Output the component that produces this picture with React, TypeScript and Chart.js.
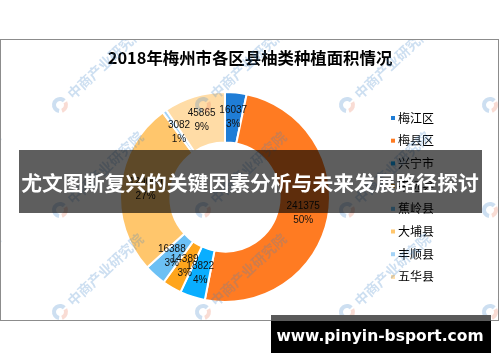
import React, { useEffect, useRef } from "react";
import { Chart, registerables } from "chart.js";

Chart.register(...registerables);

const chartTitle = "2018年梅州市各区县柚类种植面积情况";
const categories = ["梅江区", "梅县区", "兴宁市", "平远县", "蕉岭县", "大埔县", "丰顺县", "五华县"];
const areaValues = [16037, 241375, 18822, 14389, 16388, 129000, 3082, 45865];
const sliceColors = ["#1f7dd6", "#ff7b22", "#0aaeff", "#ffa51c", "#6cc0f4", "#ffc66c", "#a3d3f7", "#ffdca6"];
const bannerText = "尤文图斯复兴的关键因素分析与未来发展路径探讨";
const urlText = "www.pinyin-bsport.com";
const watermarkText = "中商产业研究院";

const decorPlugin = {
  id: "decor",
  beforeDraw(chart: any) {
    const ctx = chart.ctx;
    ctx.save();
    ctx.fillStyle = "#ffffff";
    ctx.fillRect(0, 0, chart.width, chart.height);
    ctx.strokeStyle = "#8c8c8c";
    ctx.lineWidth = 1;
    ctx.strokeRect(0.5, 39.5, 498, 281);
    ctx.restore();
  },
  afterDatasetsDraw(chart: any) {
    const ctx = chart.ctx;
    const meta = chart.getDatasetMeta(0);
    const data = chart.data.datasets[0].data as number[];
    const total = data.reduce((a, b) => a + b, 0);
    ctx.save();
    ctx.fillStyle = "#111";
    ctx.font = "10px 'Liberation Sans', Arial, sans-serif";
    ctx.textAlign = "center";
    ctx.textBaseline = "middle";
    meta.data.forEach((arc: any, i: number) => {
      const p = arc.getProps(["x", "y", "startAngle", "endAngle", "innerRadius", "outerRadius"], true);
      const mid = (p.startAngle + p.endAngle) / 2;
      const r = (p.innerRadius + p.outerRadius) / 2;
      const x = p.x + Math.cos(mid) * r;
      const y = p.y + Math.sin(mid) * r;
      ctx.fillText(String(data[i]), x, y - 7);
      ctx.fillText(Math.round((data[i] / total) * 100) + "%", x, y + 7);
    });
    ctx.restore();
  },
  afterDraw(chart: any) {
    const ctx = chart.ctx;
    const labels = chart.data.labels as string[];
    const colors = chart.data.datasets[0].backgroundColor as string[];
    ctx.save();
    // title
    ctx.fillStyle = "#000";
    ctx.font = "bold 16.4px 'Noto Sans CJK SC', sans-serif";
    ctx.textAlign = "center";
    ctx.textBaseline = "middle";
    ctx.fillText(chartTitle, 250, 58);
    // legend
    ctx.textAlign = "left";
    ctx.font = "12px 'Noto Sans CJK SC', sans-serif";
    labels.forEach((lab, i) => {
      const y = 118 + i * 22.7;
      ctx.fillStyle = colors[i];
      ctx.fillRect(391, y - 2, 4, 4);
      ctx.fillStyle = "#000";
      ctx.fillText(lab, 398, y);
    });
    ctx.restore();

    // watermarks
    ctx.save();
    ctx.beginPath();
    ctx.rect(1, 40, 497, 280);
    ctx.clip();
    const xs = [-83, 60, 203, 347, 490];
    const ys = [105, 210, 312];
    xs.forEach((wx) => {
      ys.forEach((wy) => {
        ctx.save();
        ctx.translate(wx, wy);
        ctx.globalAlpha = 0.26;
        ctx.lineWidth = 4;
        ctx.strokeStyle = "#3c82c8";
        ctx.beginPath();
        ctx.arc(0, 0, 6, 0.55 * Math.PI, 1.75 * Math.PI);
        ctx.stroke();
        ctx.strokeStyle = "#e8785a";
        ctx.beginPath();
        ctx.arc(0, 0, 6, 1.85 * Math.PI, 2.4 * Math.PI);
        ctx.stroke();
        ctx.rotate((-43 * Math.PI) / 180);
        ctx.fillStyle = "#3c82c8";
        ctx.font = "bold 14px 'Noto Sans CJK SC', sans-serif";
        ctx.textAlign = "left";
        ctx.textBaseline = "middle";
        ctx.fillText(watermarkText, 13, 0);
        ctx.restore();
      });
    });
    ctx.restore();

    // banner
    ctx.save();
    ctx.fillStyle = "rgba(0,0,0,0.63)";
    ctx.fillRect(19, 150, 463, 63);
    ctx.fillStyle = "#ffffff";
    ctx.font = "bold 20.8px 'Noto Sans CJK SC', sans-serif";
    ctx.textAlign = "center";
    ctx.textBaseline = "middle";
    ctx.fillText(bannerText, 250, 183);
    // url box
    ctx.fillStyle = "#5a5a5a";
    ctx.fillRect(271, 315, 220, 6);
    ctx.fillStyle = "#000000";
    ctx.fillRect(271, 321, 220, 32);
    ctx.fillStyle = "#ffffff";
    ctx.font = "bold 15.5px 'DejaVu Sans', sans-serif";
    ctx.fillText(urlText, 380, 337);
    ctx.restore();
  },
};

export default function App() {
  const canvasRef = useRef<HTMLCanvasElement | null>(null);
  useEffect(() => {
    if (!canvasRef.current) return;
    const chart = new Chart(canvasRef.current, {
      type: "doughnut",
      data: {
        labels: categories,
        datasets: [
          {
            data: areaValues,
            backgroundColor: sliceColors,
            borderColor: "#ffffff",
            borderWidth: 2,
          },
        ],
      },
      options: {
        responsive: false,
        animation: false,
        devicePixelRatio: 1,
        cutout: "52%",
        layout: { padding: { left: 119, right: 169, top: 90, bottom: 58 } },
        plugins: {
          legend: { display: false },
          tooltip: { enabled: false },
          title: { display: false },
        },
      },
      plugins: [decorPlugin],
    });
    return () => chart.destroy();
  }, []);
  return (
    <div style={{ position: "absolute", left: 0, top: 0, width: 500, height: 362 }}>
      <canvas ref={canvasRef} width={500} height={362} style={{ display: "block" }} />
    </div>
  );
}
